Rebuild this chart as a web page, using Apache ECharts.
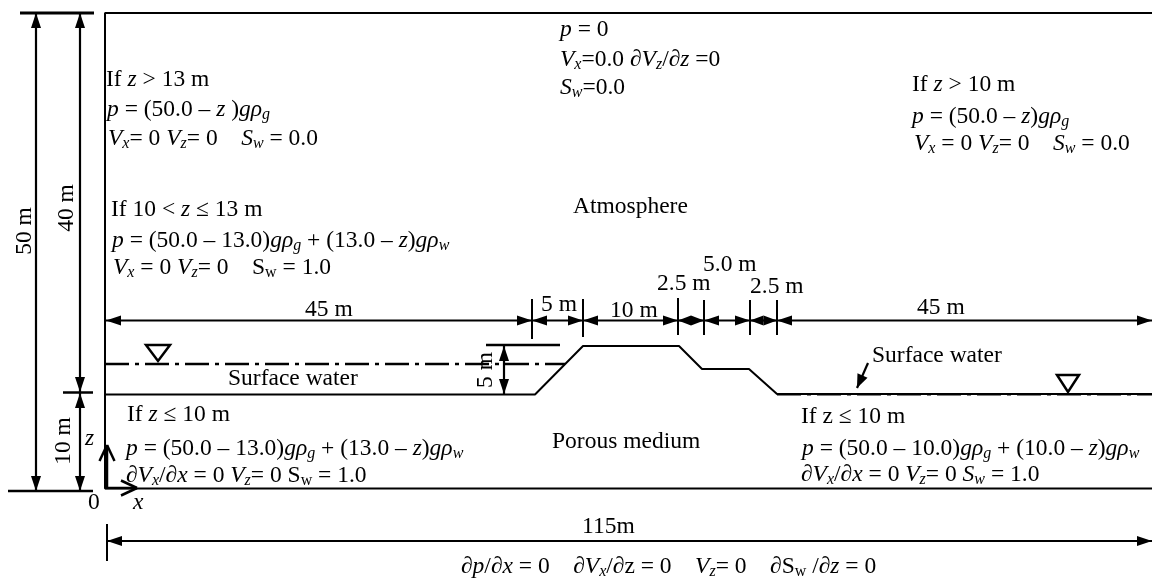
<!DOCTYPE html>
<html><head><meta charset="utf-8">
<style>html,body{margin:0;padding:0;background:#fff}#c{width:1152px;height:581px}</style>
<script src="https://cdn.jsdelivr.net/npm/echarts@6/dist/echarts.min.js"></script>
</head><body><div id="c"></div>
<script>
// All geometry is in drawing units of the schematic (not to scale in x).
const terrain = [[105,394.5],[535,394.5],[583,346],[679,346],[702,369],[749,369],[777,394],[1152,394]];
const waterLeft = [[105,364],[565,364]];
const waterRight = [[777,394.5],[1152,394.5]];
const domainBox = [[1152,13],[105,13],[105,488.5],[1152,488.5]];
const rules = [
  [20,13,94,13,3],[8,491,93,491,2.5],[63,392.5,93,392.5,2.5],
  [532,299,532,339,2],[583,299,583,337,2],[678,298,678,335,2],[704,300,704,335,2],[750,300,750,335,2],[777,300,777,335,2],
  [486,345,560,345,2.5],[107,524,107,561,2]
];
const dimArrows = [
  [36,13,36,491],[80,13,80,392],[80,393,80,491],[504,346,504,394],
  [106,320.5,532,320.5],[532,320.5,583,320.5],[583,320.5,678,320.5],[678,320.5,704,320.5],[704,320.5,750,320.5],[750,320.5,777,320.5],[777,320.5,1152,320.5],
  [107,541,1152,541]
];
const pointerArrows = [[868,363,857,388]];
const triangles = [[[146,345],[170,345],[158,361]],[[1057,375],[1079,375],[1068,392]]];
const openArrows = [[107,488,107,445],[105,488,137,488]];
const texts = [
  [106,80,'If {i|z} > 13 m'],
  [107,110,'{i|p} = (50.0 – {i|z} ){i|g}{i|ρ}{s|g}'],
  [108,139,'{i|V}{s|x}= 0 {i|V}{s|z}= 0    {i|S}{s|w} = 0.0'],
  [111,210,'If 10 < {i|z} ≤ 13 m'],
  [112,241,'{i|p} = (50.0 – 13.0){i|g}{i|ρ}{s|g} + (13.0 – {i|z}){i|g}{i|ρ}{s|w}'],
  [113,268,'{i|V}{s|x} = 0 {i|V}{s|z}= 0    S{n|w} = 1.0'],
  [560,30,'{i|p} = 0'],
  [560,60,'{i|V}{s|x}=0.0 ∂{i|V}{s|z}/∂{i|z} =0'],
  [560,88,'{i|S}{s|w}=0.0'],
  [573,207,'Atmosphere'],
  [912,85,'If {i|z} > 10 m'],
  [912,117,'{i|p} = (50.0 – {i|z}){i|g}{i|ρ}{s|g}'],
  [914,144,'{i|V}{s|x} = 0 {i|V}{s|z}= 0    {i|S}{s|w} = 0.0'],
  [657,284,'2.5 m'],[703,265,'5.0 m'],[750,287,'2.5 m'],
  [305,310,'45 m'],[541,305,'5 m'],[610,311,'10 m'],[917,308,'45 m'],
  [228,379,'Surface water'],[872,356,'Surface water'],
  [552,442,'Porous medium'],
  [127,415,'If {i|z} ≤ 10 m'],
  [126,449,'{i|p} = (50.0 – 13.0){i|g}{i|ρ}{s|g} + (13.0 – {i|z}){i|g}{i|ρ}{s|w}'],
  [126,476,'∂{i|V}{s|x}/∂{i|x} = 0 {i|V}{s|z}= 0 S{n|w} = 1.0'],
  [801,417,'If z ≤ 10 m'],
  [802,449,'{i|p} = (50.0 – 10.0){i|g}{i|ρ}{s|g} + (10.0 – {i|z}){i|g}{i|ρ}{s|w}'],
  [801,475,'∂{i|V}{s|x}/∂{i|x} = 0 {i|V}{s|z}= 0 {i|S}{s|w} = 1.0'],
  [88,503,'0'],[133,503,'{i|x}'],[85,439,'{i|z}'],
  [582,527,'115m'],
  [461,567,'∂{i|p}/∂{i|x} = 0    ∂{i|V}{s|x}/∂z = 0    {i|V}{s|z}= 0    ∂S{n|w} /∂{i|z} = 0']
];
const rotatedTexts = [[25,231,'50 m'],[67,208,'40 m'],[64,441,'10 m'],[486,370,'5 m']];

const FF = '"Liberation Serif","Times New Roman",serif', FS = 23.5;
const rich = {
  i:{fontFamily:FF,fontSize:FS,fontStyle:'italic',fill:'#000'},
  s:{fontFamily:FF,fontSize:16,fontStyle:'italic',fill:'#000',padding:[10,0,0,0]},
  n:{fontFamily:FF,fontSize:16,fill:'#000',padding:[10,0,0,0]}
};
const textEl = (p,t,rot)=>({type:'text',x:p[0],y:p[1],rotation:rot||0,style:{
  text:t,fontFamily:FF,fontSize:FS,fill:'#000',align:rot?'center':'left',verticalAlign:'middle',rich}});
const custom = (name,data,draw)=>({type:'custom',name,coordinateSystem:'cartesian2d',clip:false,silent:true,
  encode:{x:0,y:1},data,renderItem:draw});
const seg = (a,b,w)=>({type:'line',shape:{x1:a[0],y1:a[1],x2:b[0],y2:b[1]},style:{stroke:'#000',lineWidth:w}});
const head = (tip,from,L,W)=>{
  const d=Math.hypot(tip[0]-from[0],tip[1]-from[1]),ux=(tip[0]-from[0])/d,uy=(tip[1]-from[1])/d;
  const len=Math.min(L,d/2);
  const bx=tip[0]-ux*len,by=tip[1]-uy*len;
  return [tip,[bx-uy*W/2,by+ux*W/2],[bx+uy*W/2,by-ux*W/2]];
};
const poly = pts=>({type:'polygon',shape:{points:pts},style:{fill:'#000'}});

const option = {
  animation:false,backgroundColor:'#fff',
  grid:{left:0,right:0,top:0,bottom:0},
  xAxis:{type:'value',min:0,max:1152,show:false},
  yAxis:{type:'value',min:0,max:581,inverse:true,show:false},
  series:[
    {type:'line',name:'Domain',data:domainBox,showSymbol:false,silent:true,clip:false,lineStyle:{color:'#000',width:2}},
    {type:'line',name:'Ground',data:terrain,showSymbol:false,silent:true,clip:false,lineStyle:{color:'#000',width:2}},
    {type:'line',name:'Water left',data:waterLeft,showSymbol:false,silent:true,lineStyle:{color:'#000',width:2.5,type:[24,6,4,6]}},
    {type:'line',name:'Water right',data:waterRight,showSymbol:false,silent:true,lineStyle:{color:'#000',width:2,type:[24,6,4,6]}},
    custom('Rules',rules,(_,api)=>{
      const a=api.coord([api.value(0),api.value(1)]),b=api.coord([api.value(2),api.value(3)]);
      return seg(a,b,api.value(4));
    }),
    custom('Dimensions',dimArrows,(_,api)=>{
      const a=api.coord([api.value(0),api.value(1)]),b=api.coord([api.value(2),api.value(3)]);
      return {type:'group',children:[seg(a,b,2.2),poly(head(a,b,15,10)),poly(head(b,a,15,10))]};
    }),
    custom('Pointer',pointerArrows,(_,api)=>{
      const a=api.coord([api.value(0),api.value(1)]),b=api.coord([api.value(2),api.value(3)]);
      return {type:'group',children:[seg(a,b,2.2),poly(head(b,a,16,11))]};
    }),
    custom('Axes',openArrows,(_,api)=>{
      const a=api.coord([api.value(0),api.value(1)]),b=api.coord([api.value(2),api.value(3)]);
      const h=head(b,a,16,15);
      return {type:'group',children:[seg(a,b,2.5),seg(h[1],b,2.5),seg(h[2],b,2.5)]};
    }),
    custom('Water marks',triangles.map((t,i)=>[t[0][0],t[0][1],i]),(_,api)=>{
      const t=triangles[api.value(2)].map(p=>api.coord(p));
      return {type:'polygon',shape:{points:t},style:{fill:'#fff',stroke:'#000',lineWidth:2.5}};
    }),
    custom('Labels',texts.map((t,i)=>[t[0],t[1],i]),(_,api)=>
      textEl(api.coord([api.value(0),api.value(1)]),texts[api.value(2)][2])),
    custom('Rotated labels',rotatedTexts.map((t,i)=>[t[0],t[1],i]),(_,api)=>
      textEl(api.coord([api.value(0),api.value(1)]),rotatedTexts[api.value(2)][2],Math.PI/2))
  ]
};
echarts.init(document.getElementById('c'),null,{renderer:'canvas'}).setOption(option);
</script></body></html>
